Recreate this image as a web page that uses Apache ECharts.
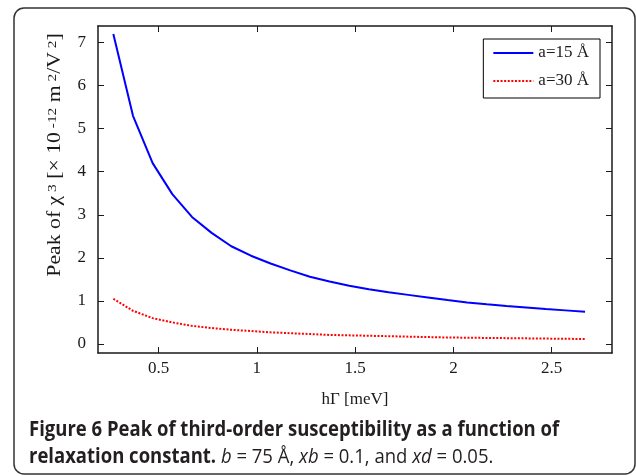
<!DOCTYPE html>
<html>
<head>
<meta charset="utf-8">
<script src="https://cdn.jsdelivr.net/npm/echarts@6/dist/echarts.min.js"></script>
<style>
  html, body { margin: 0; padding: 0; background: #fff; }
  #chart { width: 636px; height: 476px; }
</style>
</head>
<body>
<div id="chart"></div>
<script>
// h*Gamma values [meV]
const gammaValues = [0.27, 0.37, 0.47, 0.57, 0.67, 0.77, 0.87, 0.97, 1.07, 1.17, 1.27, 1.37, 1.47,
  1.57, 1.67, 1.77, 1.87, 1.97, 2.07, 2.17, 2.27, 2.37, 2.47, 2.57, 2.67];
// peak of chi3 [x 1e-12 m^2/V^2]
const peakA15 = [7.2, 5.3, 4.2, 3.48, 2.95, 2.58, 2.27, 2.05, 1.87, 1.71, 1.56, 1.45, 1.35,
  1.27, 1.2, 1.14, 1.08, 1.02, 0.965, 0.92, 0.88, 0.845, 0.81, 0.78, 0.75];
const peakA30 = [1.05, 0.77, 0.6, 0.5, 0.42, 0.37, 0.33, 0.3, 0.27, 0.25, 0.23, 0.21, 0.2,
  0.19, 0.18, 0.17, 0.16, 0.15, 0.145, 0.14, 0.135, 0.13, 0.125, 0.12, 0.115];
const xTicks = [0.5, 1, 1.5, 2, 2.5];
const yTicks = [0, 1, 2, 3, 4, 5, 6, 7];
const seriesNames = ['a=15 Å', 'a=30 Å'];

const serif = "'Liberation Serif', 'DejaVu Serif', serif";
const sans = "'Open Sans', 'Noto Sans', sans-serif";
const ink = '#1a1a1a';

const chart = echarts.init(document.getElementById('chart'));

const toPairs = ys => ys.map((y, i) => [gammaValues[i], y]);

const frameAxis = {
  axisLine: { show: true, onZero: false, lineStyle: { color: ink, width: 1.5 } },
  axisTick: { show: true, inside: true, length: 6, lineStyle: { color: ink, width: 1 } },
  splitLine: { show: false }
};

const option = {
  animation: false,
  backgroundColor: '#fff',
  grid: { left: 98, right: 24, top: 26, bottom: 123 },
  legend: {
    right: 36,
    top: 39,
    orient: 'vertical',
    data: seriesNames,
    borderColor: '#000',
    borderWidth: 1,
    borderRadius: 0,
    padding: [4, 11, 7, 9],
    itemWidth: 40,
    itemHeight: 14,
    itemGap: 8,
    itemStyle: { opacity: 0 },
    textStyle: { fontFamily: serif, fontSize: 17, color: ink, lineHeight: 20 }
  },
  xAxis: [
    {
      ...frameAxis,
      type: 'value',
      min: 0.192,
      max: 2.807,
      position: 'bottom',
      axisTick: { ...frameAxis.axisTick, customValues: xTicks },
      axisLabel: { customValues: xTicks, margin: 7, fontFamily: serif, fontSize: 17, color: ink },
      name: 'hΓ [meV]',
      nameLocation: 'middle',
      nameGap: 38,
      nameTextStyle: { fontFamily: serif, fontSize: 17, color: ink }
    },
    {
      ...frameAxis,
      type: 'value',
      min: 0.192,
      max: 2.807,
      position: 'top',
      axisTick: { ...frameAxis.axisTick, customValues: xTicks },
      axisLabel: { show: false }
    }
  ],
  yAxis: [
    {
      ...frameAxis,
      type: 'value',
      min: -0.21,
      max: 7.385,
      position: 'left',
      axisTick: { ...frameAxis.axisTick, customValues: yTicks },
      axisLabel: { customValues: yTicks, margin: 12, fontFamily: serif, fontSize: 17, color: ink }
    },
    {
      ...frameAxis,
      type: 'value',
      min: -0.21,
      max: 7.385,
      position: 'right',
      axisTick: { ...frameAxis.axisTick, customValues: yTicks },
      axisLabel: { show: false }
    }
  ],
  series: [
    {
      name: seriesNames[0],
      type: 'line',
      data: toPairs(peakA15),
      symbol: 'none',
      color: '#0000ff',
      lineStyle: { color: '#0000ff', width: 2 }
    },
    {
      name: seriesNames[1],
      type: 'line',
      data: toPairs(peakA30),
      symbol: 'none',
      color: '#ff0000',
      lineStyle: { color: '#ff0000', width: 2, type: [2, 1.6] }
    }
  ],
  graphic: [
    {
      type: 'rect',
      shape: { x: 14, y: 8, width: 621, height: 466, r: 10 },
      style: { fill: 'none', stroke: '#333', lineWidth: 1.5 },
      silent: true
    },
    {
      // y axis title, rotated and stretched along its length like the source
      type: 'text',
      x: 55,
      y: 155,
      rotation: Math.PI / 2,
      scaleX: 1.28,
      scaleY: 1.05,
      style: {
        text: 'Peak of χ{sup|3} [× 10{sup|-12} m{sup|2}/V{sup|2}]',
        fontFamily: serif,
        fontSize: 17,
        fill: ink,
        align: 'center',
        verticalAlign: 'middle',
        rich: {
          sup: { fontFamily: serif, fontSize: 12, lineHeight: 8, verticalAlign: 'top', padding: [0, 0, 0, 3], fill: ink }
        }
      }
    },
    {
      type: 'text',
      x: 29,
      y: 430,
      scaleY: 1.12,
      style: {
        text: 'Figure 6 Peak of third-order susceptibility as a function of',
        fontFamily: sans,
        fontWeight: 'bold',
        fontSize: 18.5,
        fill: '#231f20',
        verticalAlign: 'middle'
      }
    },
    {
      type: 'text',
      x: 29,
      y: 457,
      scaleY: 1.12,
      style: {
        text: '{b|relaxation constant.} {i|b} = 75 Å, {i|xb} = 0.1, and {i|xd} = 0.05.',
        fontFamily: sans,
        fontSize: 18.5,
        fill: '#231f20',
        verticalAlign: 'middle',
        rich: {
          b: { fontFamily: sans, fontWeight: 'bold', fontSize: 18.5, fill: '#231f20' },
          i: { fontFamily: sans, fontStyle: 'italic', fontSize: 18.5, fill: '#231f20' }
        }
      }
    }
  ]
};

chart.setOption(option);
</script>
</body>
</html>
